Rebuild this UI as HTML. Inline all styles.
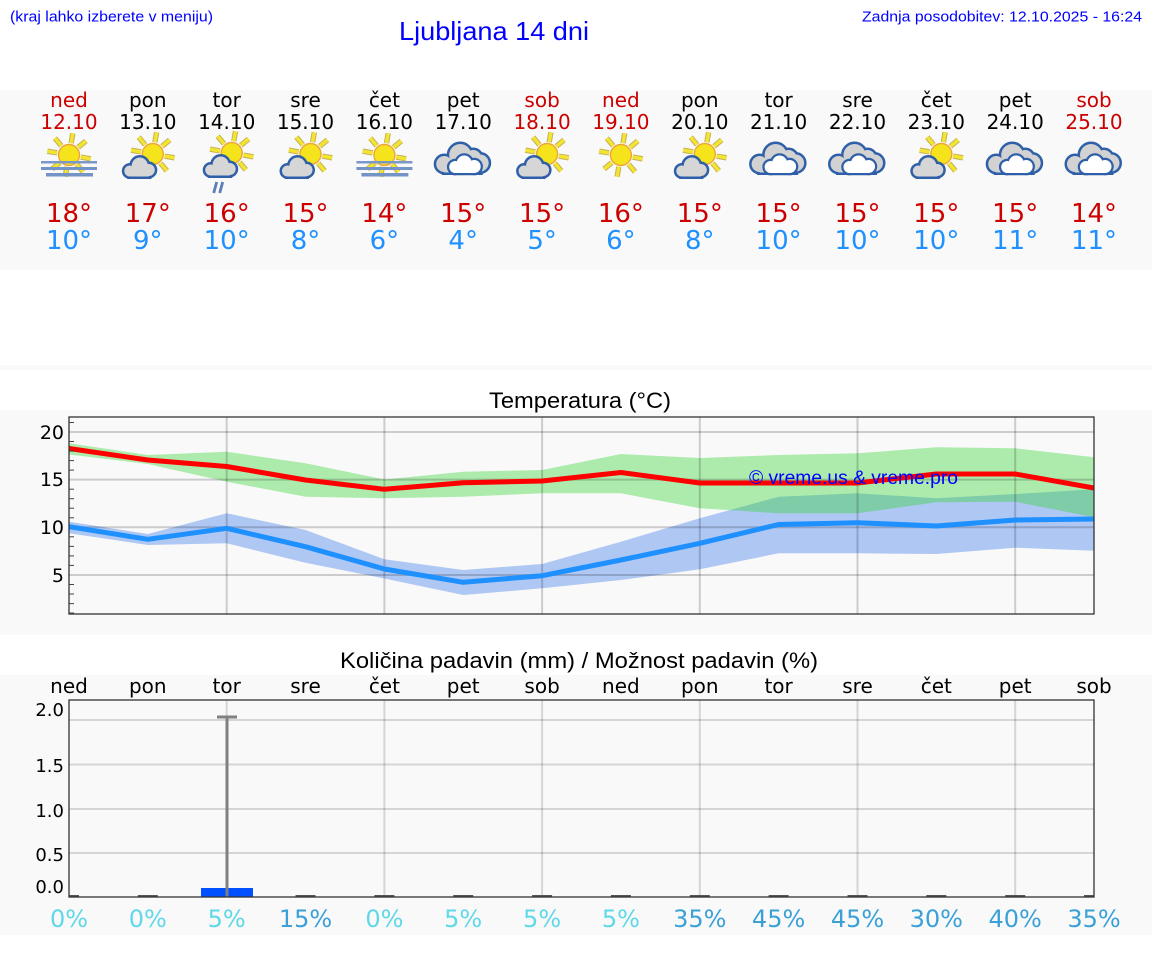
<!DOCTYPE html>
<html><head><meta charset="utf-8">
<style>
html,body{margin:0;padding:0;background:#fff;}
body{width:1152px;height:975px;overflow:hidden;}
svg{display:block;}
.dv{font-family:"DejaVu Sans","Liberation Sans",sans-serif;}
.ls{font-family:"Liberation Sans",Arial,sans-serif;}
</style></head>
<body>
<svg width="1152" height="975" viewBox="0 0 1152 975" xmlns="http://www.w3.org/2000/svg">
<defs>
  <g id="sun">
    <path d="M11.8 2.1L21.7 3.8M7.7 9.2L14.1 16.9M-2.1 11.8L-3.8 21.7M-9.2 7.7L-16.9 14.1M-11.8 -2.1L-21.7 -3.8M-7.7 -9.2L-14.1 -16.9M2.1 -11.8L3.8 -21.7M9.2 -7.7L16.9 -14.1" stroke="#c4b25a" stroke-width="5.4" fill="none"/>
    <path d="M11.8 2.1L21.7 3.8M7.7 9.2L14.1 16.9M-2.1 11.8L-3.8 21.7M-9.2 7.7L-16.9 14.1M-11.8 -2.1L-21.7 -3.8M-7.7 -9.2L-14.1 -16.9M2.1 -11.8L3.8 -21.7M9.2 -7.7L16.9 -14.1" stroke="#f2e430" stroke-width="3.4" fill="none"/>
    <circle cx="0" cy="0" r="10.5" fill="#f5e41c" stroke="#eea43a" stroke-width="1.4"/>
  </g>
  <g id="cs">
    <g fill="#2e5fa8" stroke="#2e5fa8" stroke-width="5">
      <circle cx="-18" cy="11" r="5.5"/><circle cx="-8" cy="5.5" r="8"/><circle cx="1" cy="10" r="6"/><rect x="-18" y="10" width="19" height="6.5"/>
    </g>
    <g fill="#d6d6d6">
      <circle cx="-18" cy="11" r="5.5"/><circle cx="-8" cy="5.5" r="8"/><circle cx="1" cy="10" r="6"/><rect x="-18" y="10" width="19" height="6.5"/>
    </g>
  </g>
  <g id="pc">
    <use href="#sun" transform="translate(5,-6)"/>
    <use href="#cs"/>
  </g>
  <g id="rain">
    <use href="#sun" transform="translate(5,-7)"/>
    <use href="#cs" transform="translate(2,-1)"/>
    <path d="M-10 22L-13 33M-4 22L-7 33" stroke="#5a7fb8" stroke-width="2.8"/>
  </g>
  <g id="fog">
    <use href="#sun" transform="translate(0,-5)"/>
    <rect x="-28" y="1" width="56" height="2.5" fill="#7a98cc"/>
    <rect x="-28" y="7" width="56" height="3" fill="#7494c8"/>
    <rect x="-23" y="13" width="47" height="3.5" fill="#7494c8"/>
  </g>
  <g id="sunonly">
    <use href="#sun" transform="translate(0,-5)"/>
  </g>
  <g id="cb">
    <g fill="#2e5fa8" stroke="#2e5fa8" stroke-width="5">
      <circle cx="-19" cy="4" r="8"/><circle cx="-3" cy="-5" r="11"/><circle cx="10" cy="-2" r="8"/><circle cx="17" cy="3" r="8.5"/><rect x="-19" y="0" width="36" height="12.5"/>
    </g>
    <g fill="#d2d2d2">
      <circle cx="-19" cy="4" r="8"/><circle cx="-3" cy="-5" r="11"/><circle cx="10" cy="-2" r="8"/><circle cx="17" cy="3" r="8.5"/><rect x="-19" y="0" width="36" height="12.5"/>
    </g>
    <g fill="#2e5fa8" stroke="#2e5fa8" stroke-width="4.5">
      <circle cx="-8" cy="7" r="6"/><circle cx="1" cy="3" r="7.5"/><circle cx="11" cy="6.5" r="6.5"/><rect x="-8" y="6" width="19" height="7"/>
    </g>
    <g fill="#ffffff">
      <circle cx="-8" cy="7" r="6"/><circle cx="1" cy="3" r="7.5"/><circle cx="11" cy="6.5" r="6.5"/><rect x="-8" y="6" width="19" height="7"/>
    </g>
  </g>
  <clipPath id="tclip"><rect x="69" y="417" width="1025" height="197"/></clipPath>
  <clipPath id="pclip"><rect x="69" y="700" width="1025" height="197"/></clipPath>
</defs>

<!-- header -->
<text x="10" y="21.5" class="ls" font-size="15" fill="#0000ff" textLength="203" lengthAdjust="spacingAndGlyphs">(kraj lahko izberete v meniju)</text>
<text x="399" y="40" class="ls" font-size="26" fill="#0000ff" textLength="190" lengthAdjust="spacingAndGlyphs">Ljubljana 14 dni</text>
<text x="1142" y="21.5" class="ls" font-size="15" fill="#0000ff" text-anchor="end" textLength="280" lengthAdjust="spacingAndGlyphs">Zadnja posodobitev: 12.10.2025 - 16:24</text>

<!-- panels -->
<rect x="0" y="90" width="1152" height="180" fill="#f9f9f9"/>
<rect x="0" y="365" width="1152" height="5" fill="#f9f9f9"/>
<rect x="0" y="410" width="1152" height="225" fill="#f9f9f9"/>
<rect x="0" y="675" width="1152" height="260" fill="#f9f9f9"/>

<!-- top panel: days -->
<g class="dv" font-size="20" text-anchor="middle">
  <text x="69" y="107" fill="#cc0000">ned</text>
  <text x="147.8" y="107" fill="#000">pon</text>
  <text x="226.7" y="107" fill="#000">tor</text>
  <text x="305.5" y="107" fill="#000">sre</text>
  <text x="384.4" y="107" fill="#000">čet</text>
  <text x="463.2" y="107" fill="#000">pet</text>
  <text x="542.1" y="107" fill="#cc0000">sob</text>
  <text x="620.9" y="107" fill="#cc0000">ned</text>
  <text x="699.8" y="107" fill="#000">pon</text>
  <text x="778.6" y="107" fill="#000">tor</text>
  <text x="857.5" y="107" fill="#000">sre</text>
  <text x="936.3" y="107" fill="#000">čet</text>
  <text x="1015.2" y="107" fill="#000">pet</text>
  <text x="1094" y="107" fill="#cc0000">sob</text>

  <text x="69" y="129" fill="#cc0000">12.10</text>
  <text x="147.8" y="129" fill="#000">13.10</text>
  <text x="226.7" y="129" fill="#000">14.10</text>
  <text x="305.5" y="129" fill="#000">15.10</text>
  <text x="384.4" y="129" fill="#000">16.10</text>
  <text x="463.2" y="129" fill="#000">17.10</text>
  <text x="542.1" y="129" fill="#cc0000">18.10</text>
  <text x="620.9" y="129" fill="#cc0000">19.10</text>
  <text x="699.8" y="129" fill="#000">20.10</text>
  <text x="778.6" y="129" fill="#000">21.10</text>
  <text x="857.5" y="129" fill="#000">22.10</text>
  <text x="936.3" y="129" fill="#000">23.10</text>
  <text x="1015.2" y="129" fill="#000">24.10</text>
  <text x="1094" y="129" fill="#cc0000">25.10</text>
</g>

<!-- icons -->
<use href="#fog" transform="translate(69,160)"/>
<use href="#pc" transform="translate(147.8,160)"/>
<use href="#rain" transform="translate(226.7,160)"/>
<use href="#pc" transform="translate(305.5,160)"/>
<use href="#fog" transform="translate(384.4,160)"/>
<use href="#cb" transform="translate(463.2,160)"/>
<use href="#pc" transform="translate(542.1,160)"/>
<use href="#sunonly" transform="translate(620.9,160)"/>
<use href="#pc" transform="translate(699.8,160)"/>
<use href="#cb" transform="translate(778.6,160)"/>
<use href="#cb" transform="translate(857.5,160)"/>
<use href="#pc" transform="translate(936.3,160)"/>
<use href="#cb" transform="translate(1015.2,160)"/>
<use href="#cb" transform="translate(1094,160)"/>

<!-- temps -->
<g class="dv" font-size="26" text-anchor="middle" fill="#cc0000">
  <text x="69" y="222">18°</text>
  <text x="147.8" y="222">17°</text>
  <text x="226.7" y="222">16°</text>
  <text x="305.5" y="222">15°</text>
  <text x="384.4" y="222">14°</text>
  <text x="463.2" y="222">15°</text>
  <text x="542.1" y="222">15°</text>
  <text x="620.9" y="222">16°</text>
  <text x="699.8" y="222">15°</text>
  <text x="778.6" y="222">15°</text>
  <text x="857.5" y="222">15°</text>
  <text x="936.3" y="222">15°</text>
  <text x="1015.2" y="222">15°</text>
  <text x="1094" y="222">14°</text>
</g>
<g class="dv" font-size="26" text-anchor="middle" fill="#1e90ff">
  <text x="69" y="249">10°</text>
  <text x="147.8" y="249">9°</text>
  <text x="226.7" y="249">10°</text>
  <text x="305.5" y="249">8°</text>
  <text x="384.4" y="249">6°</text>
  <text x="463.2" y="249">4°</text>
  <text x="542.1" y="249">5°</text>
  <text x="620.9" y="249">6°</text>
  <text x="699.8" y="249">8°</text>
  <text x="778.6" y="249">10°</text>
  <text x="857.5" y="249">10°</text>
  <text x="936.3" y="249">10°</text>
  <text x="1015.2" y="249">11°</text>
  <text x="1094" y="249">11°</text>
</g>

<!-- temperature chart -->
<text x="580" y="408" class="ls" font-size="22" fill="#000" text-anchor="middle" textLength="182" lengthAdjust="spacingAndGlyphs">Temperatura (°C)</text>
<g clip-path="url(#tclip)">
  <polygon fill="#6495ed" fill-opacity="0.5" points="69,521.7 147.8,534 226.7,513.3 305.5,530 384.4,559.3 463.2,570 542.1,564 620.9,541.7 699.8,518.3 778.6,496.7 857.5,493.3 936.3,498.3 1015.2,494 1094,489.3 1094,550.7 1015.2,547.7 936.3,554 857.5,553.3 778.6,553.3 699.8,569.3 620.9,580 542.1,588.3 463.2,595 384.4,578.5 305.5,562.7 226.7,543.3 147.8,545 69,533.3"/>
  <polygon fill="#31d431" fill-opacity="0.38" points="69,443.3 147.8,455 226.7,451.7 305.5,463.3 384.4,479.5 463.2,471.7 542.1,470 620.9,454 699.8,458 778.6,455 857.5,453.3 936.3,447.3 1015.2,448.3 1094,457.3 1094,517.3 1015.2,501.7 936.3,502.3 857.5,513.3 778.6,513.3 699.8,508.3 620.9,493.3 542.1,493.3 463.2,496.7 384.4,498.3 305.5,496.7 226.7,481.7 147.8,464 69,454.5"/>
  <g stroke="#000" stroke-opacity="0.18" stroke-width="2">
    <line x1="69" y1="432" x2="1094" y2="432"/>
    <line x1="69" y1="479.6" x2="1094" y2="479.6"/>
    <line x1="69" y1="527.3" x2="1094" y2="527.3"/>
    <line x1="69" y1="575" x2="1094" y2="575"/>
    <line x1="226.7" y1="417" x2="226.7" y2="614"/>
    <line x1="384.4" y1="417" x2="384.4" y2="614"/>
    <line x1="542.1" y1="417" x2="542.1" y2="614"/>
    <line x1="699.8" y1="417" x2="699.8" y2="614"/>
    <line x1="857.5" y1="417" x2="857.5" y2="614"/>
    <line x1="1015.2" y1="417" x2="1015.2" y2="614"/>
  </g>
</g>
<polyline fill="none" stroke="#ff0000" stroke-width="5" stroke-linejoin="round" points="69,448.5 147.8,460 226.7,466.5 305.5,480 384.4,489.3 463.2,482.7 542.1,481 620.9,472.5 699.8,483 778.6,483 857.5,483 936.3,474 1015.2,474 1094,488"/>
<polyline fill="none" stroke="#1e90ff" stroke-width="5" stroke-linejoin="round" points="69,526.7 147.8,539.3 226.7,528.3 305.5,546.7 384.4,569 463.2,582.3 542.1,575.7 620.9,560 699.8,543.3 778.6,524.5 857.5,522.7 936.3,526 1015.2,520 1094,519"/>
<rect x="69" y="417" width="1025" height="197" fill="none" stroke="#333" stroke-width="1.3"/>
<g stroke="#444" stroke-width="1">
  <line x1="69" y1="422.5" x2="74" y2="422.5"/>
  <line x1="69" y1="441.5" x2="74" y2="441.5"/>
  <line x1="69" y1="451.1" x2="74" y2="451.1"/>
  <line x1="69" y1="460.6" x2="74" y2="460.6"/>
  <line x1="69" y1="470.1" x2="74" y2="470.1"/>
  <line x1="69" y1="489.2" x2="74" y2="489.2"/>
  <line x1="69" y1="498.7" x2="74" y2="498.7"/>
  <line x1="69" y1="508.2" x2="74" y2="508.2"/>
  <line x1="69" y1="517.8" x2="74" y2="517.8"/>
  <line x1="69" y1="536.8" x2="74" y2="536.8"/>
  <line x1="69" y1="546.4" x2="74" y2="546.4"/>
  <line x1="69" y1="555.9" x2="74" y2="555.9"/>
  <line x1="69" y1="565.4" x2="74" y2="565.4"/>
  <line x1="69" y1="584.5" x2="74" y2="584.5"/>
  <line x1="69" y1="594" x2="74" y2="594"/>
  <line x1="69" y1="603.6" x2="74" y2="603.6"/>
  <line x1="69" y1="613" x2="74" y2="613"/>
</g>
<g class="dv" font-size="19" text-anchor="end" fill="#000">
  <text x="64" y="439">20</text>
  <text x="64" y="486">15</text>
  <text x="64" y="534">10</text>
  <text x="64" y="582">5</text>
</g>
<text x="749" y="484" class="ls" font-size="19" fill="#0000ff" textLength="209" lengthAdjust="spacingAndGlyphs">© vreme.us &amp; vreme.pro</text>

<!-- precipitation chart -->
<text x="579" y="668" class="ls" font-size="22" fill="#000" text-anchor="middle" textLength="478" lengthAdjust="spacingAndGlyphs">Količina padavin (mm) / Možnost padavin (%)</text>
<g class="dv" font-size="20" text-anchor="middle" fill="#000">
  <text x="69" y="693">ned</text>
  <text x="147.8" y="693">pon</text>
  <text x="226.7" y="693">tor</text>
  <text x="305.5" y="693">sre</text>
  <text x="384.4" y="693">čet</text>
  <text x="463.2" y="693">pet</text>
  <text x="542.1" y="693">sob</text>
  <text x="620.9" y="693">ned</text>
  <text x="699.8" y="693">pon</text>
  <text x="778.6" y="693">tor</text>
  <text x="857.5" y="693">sre</text>
  <text x="936.3" y="693">čet</text>
  <text x="1015.2" y="693">pet</text>
  <text x="1094" y="693">sob</text>
</g>
<g stroke="#000" stroke-opacity="0.14" stroke-width="2">
  <line x1="69" y1="720" x2="1094" y2="720"/>
  <line x1="69" y1="764.5" x2="1094" y2="764.5"/>
  <line x1="69" y1="809" x2="1094" y2="809"/>
  <line x1="69" y1="853" x2="1094" y2="853"/>
  <line x1="226.7" y1="700" x2="226.7" y2="897"/>
  <line x1="384.4" y1="700" x2="384.4" y2="897"/>
  <line x1="542.1" y1="700" x2="542.1" y2="897"/>
  <line x1="699.8" y1="700" x2="699.8" y2="897"/>
  <line x1="857.5" y1="700" x2="857.5" y2="897"/>
  <line x1="1015.2" y1="700" x2="1015.2" y2="897"/>
</g>
<g clip-path="url(#pclip)" stroke="#555" stroke-width="2">
  <line x1="59" y1="896" x2="79" y2="896"/>
  <line x1="137.8" y1="896" x2="157.8" y2="896"/>
  <line x1="295.5" y1="896" x2="315.5" y2="896"/>
  <line x1="374.4" y1="896" x2="394.4" y2="896"/>
  <line x1="453.2" y1="896" x2="473.2" y2="896"/>
  <line x1="532.1" y1="896" x2="552.1" y2="896"/>
  <line x1="610.9" y1="896" x2="630.9" y2="896"/>
  <line x1="689.8" y1="896" x2="709.8" y2="896"/>
  <line x1="768.6" y1="896" x2="788.6" y2="896"/>
  <line x1="847.5" y1="896" x2="867.5" y2="896"/>
  <line x1="926.3" y1="896" x2="946.3" y2="896"/>
  <line x1="1005.2" y1="896" x2="1025.2" y2="896"/>
  <line x1="1084" y1="896" x2="1104" y2="896"/>
</g>
<rect x="201" y="888" width="52" height="9" fill="#0050ff"/>
<line x1="227" y1="717" x2="227" y2="897" stroke="#808080" stroke-width="3"/>
<line x1="217" y1="717" x2="237" y2="717" stroke="#808080" stroke-width="3"/>
<rect x="69" y="700" width="1025" height="197" fill="none" stroke="#333" stroke-width="1.3"/>
<g class="dv" font-size="18" text-anchor="end" fill="#000">
  <text x="64" y="716">2.0</text>
  <text x="64" y="772">1.5</text>
  <text x="64" y="817">1.0</text>
  <text x="64" y="861">0.5</text>
  <text x="64" y="893">0.0</text>
</g>
<g class="dv" font-size="24" text-anchor="middle">
  <text x="69" y="927" fill="#5fd8e8">0%</text>
  <text x="147.8" y="927" fill="#5fd8e8">0%</text>
  <text x="226.7" y="927" fill="#5fd8e8">5%</text>
  <text x="305.5" y="927" fill="#3aa0d8">15%</text>
  <text x="384.4" y="927" fill="#5fd8e8">0%</text>
  <text x="463.2" y="927" fill="#5fd8e8">5%</text>
  <text x="542.1" y="927" fill="#5fd8e8">5%</text>
  <text x="620.9" y="927" fill="#5fd8e8">5%</text>
  <text x="699.8" y="927" fill="#3aa0d8">35%</text>
  <text x="778.6" y="927" fill="#3aa0d8">45%</text>
  <text x="857.5" y="927" fill="#3aa0d8">45%</text>
  <text x="936.3" y="927" fill="#3aa0d8">30%</text>
  <text x="1015.2" y="927" fill="#3aa0d8">40%</text>
  <text x="1094" y="927" fill="#3aa0d8">35%</text>
</g>
</svg>
</body></html>
